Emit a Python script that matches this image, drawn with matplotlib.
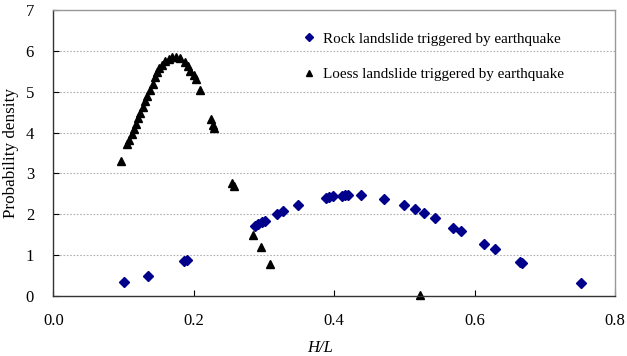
import matplotlib
matplotlib.use("Agg")
import matplotlib.pyplot as plt

# Rock landslides (blue diamonds)
rock_x = [0.100, 0.134, 0.186, 0.190, 0.287, 0.292, 0.297, 0.302, 0.318, 0.327,
          0.349, 0.388, 0.393, 0.398, 0.411, 0.415, 0.419, 0.438, 0.471, 0.500,
          0.515, 0.528, 0.543, 0.569, 0.580, 0.613, 0.629, 0.665, 0.667, 0.752]
rock_y = [0.35, 0.49, 0.85, 0.88, 1.72, 1.77, 1.80, 1.84, 2.00, 2.07,
          2.23, 2.41, 2.43, 2.44, 2.45, 2.47, 2.47, 2.47, 2.37, 2.22,
          2.13, 2.03, 1.91, 1.67, 1.58, 1.27, 1.15, 0.84, 0.81, 0.33]

# Loess landslides (black triangles)
loess_x = [0.096, 0.105, 0.108, 0.112, 0.1145, 0.117, 0.120, 0.1235, 0.127, 0.1306,
           0.1335, 0.138, 0.1416, 0.145, 0.148, 0.1506, 0.154, 0.159, 0.164, 0.1687,
           0.174, 0.1796, 0.187, 0.191, 0.195, 0.1996, 0.203, 0.209, 0.224, 0.227,
           0.228, 0.254, 0.257, 0.284, 0.295, 0.308, 0.522]
loess_y = [3.30, 3.73, 3.83, 3.96, 4.08, 4.22, 4.35, 4.49, 4.63, 4.77,
           4.90, 5.04, 5.20, 5.35, 5.47, 5.58, 5.66, 5.74, 5.80, 5.84,
           5.86, 5.82, 5.72, 5.62, 5.51, 5.41, 5.32, 5.04, 4.34, 4.18,
           4.12, 2.77, 2.69, 1.50, 1.19, 0.79, 0.03]

x_ticks = [0.0, 0.2, 0.4, 0.6, 0.8]
y_ticks = [0, 1, 2, 3, 4, 5, 6, 7]

plt.rcParams["font.family"] = ["Liberation Serif", "DejaVu Serif"]

fig = plt.figure(figsize=(6.27, 3.56), dpi=100)
ax = fig.add_axes([0.0853, 0.1685, 0.8957, 0.8035])

ax.plot(rock_x, rock_y, linestyle="none", marker="D", markersize=5,
        color="#00008B", label="Rock landslide triggered by earthquake")
ax.plot(loess_x, loess_y, linestyle="none", marker="^", markersize=6,
        color="black", label="Loess landslide triggered by earthquake", clip_on=False)

ax.set_xlim(0, 0.8)
ax.set_ylim(0, 7)
ax.set_xticks(x_ticks)
ax.set_xticklabels([f"{t:.1f}" for t in x_ticks])
ax.set_yticks(y_ticks)
ax.tick_params(direction="in", labelsize=12, length=4)
ax.tick_params(axis="x", pad=12)
ax.tick_params(axis="y", pad=14)

ax.yaxis.grid(True, linestyle=(0, (1.5, 1.5)), color="#b0b0b0", linewidth=0.8)
ax.set_axisbelow(True)

for side in ["left", "bottom"]:
    ax.spines[side].set_color("#333333")
    ax.spines[side].set_linewidth(1.0)
for side in ["top", "right"]:
    ax.spines[side].set_color("#999999")
    ax.spines[side].set_linewidth(1.0)

ax.set_xlabel("H/L", fontsize=12, style="italic")
ax.xaxis.set_label_coords(0.475, -0.155)
ax.set_ylabel("Probability density", fontsize=12.3, labelpad=5)

ax.legend(loc="upper left", bbox_to_anchor=(0.415, 0.97), frameon=False, numpoints=1,
          fontsize=10.9, labelspacing=1.45, handletextpad=0.3, handlelength=1.2,
          markerscale=0.8)

fig.savefig("out.png", dpi=100)
